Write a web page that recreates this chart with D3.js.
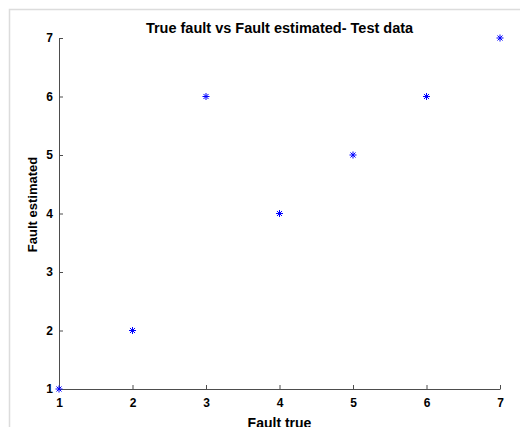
<!DOCTYPE html>
<html>
<head>
<meta charset="utf-8">
<script src="https://cdn.jsdelivr.net/npm/d3@7"></script>
<style>
  body { margin: 0; background: #fff; }
  svg { display: block; font-family: "Liberation Sans", Arial, sans-serif; }
  .axis path, .axis line { stroke: #4d4d4d; }
  .axis text { fill: #000; font-weight: bold; font-size: 12px; }
</style>
</head>
<body>
<svg id="chart" width="520" height="427"></svg>
<script>
// data
const faultTrue = [1, 2, 3, 4, 5, 6, 7];
const faultEstimated = [1, 2, 6, 4, 5, 6, 7];
const xTicks = [1, 2, 3, 4, 5, 6, 7];
const yTicks = [1, 2, 3, 4, 5, 6, 7];

const width = 520, height = 427;
const margin = { top: 38, right: 20, bottom: 38, left: 59 };

const svg = d3.select('#chart');

// light figure frame, clipped by the window on the right and bottom
svg.append('rect')
    .attr('x', 9.5).attr('y', 9.5)
    .attr('width', width).attr('height', height)
    .attr('fill', 'none')
    .attr('stroke', '#dcdcdc')
    .attr('stroke-width', 1.5);

const x = d3.scaleLinear().domain([1, 7]).range([margin.left, width - margin.right]);
const y = d3.scaleLinear().domain([1, 7]).range([height - margin.bottom, margin.top]);

svg.append('g')
    .attr('class', 'axis')
    .attr('transform', `translate(0,${y(1)})`)
    .call(d3.axisBottom(x).tickValues(xTicks).tickFormat(d3.format('d')).tickSizeInner(-4).tickSizeOuter(0).tickPadding(9));

svg.append('g')
    .attr('class', 'axis')
    .attr('transform', `translate(${x(1)},0)`)
    .call(d3.axisLeft(y).tickValues(yTicks).tickFormat(d3.format('d')).tickSizeInner(-4).tickSizeOuter(0).tickPadding(6));

// MATLAB style '*' marker: plus and cross together
const asterisk = {
    draw(ctx, size) {
        const r = Math.sqrt(size) / 2;
        const d = r * 0.72;
        ctx.moveTo(-r, 0); ctx.lineTo(r, 0);
        ctx.moveTo(0, -r); ctx.lineTo(0, r);
        ctx.moveTo(-d, -d); ctx.lineTo(d, d);
        ctx.moveTo(-d, d); ctx.lineTo(d, -d);
    }
};

svg.append('g').selectAll('path')
    .data(faultTrue.map((v, i) => [v, faultEstimated[i]]))
    .join('path')
    .attr('transform', d => `translate(${x(d[0])},${y(d[1])})`)
    .attr('d', d3.symbol().type(asterisk).size(49))
    .attr('fill', 'none')
    .attr('stroke', '#0000ff')
    .attr('stroke-width', 1);

svg.append('text')
    .attr('x', (x(1) + x(7)) / 2)
    .attr('y', 33)
    .attr('text-anchor', 'middle')
    .attr('font-size', 14.5)
    .attr('font-weight', 'bold')
    .text('True fault vs Fault estimated- Test data');

svg.append('text')
    .attr('x', (x(1) + x(7)) / 2)
    .attr('y', 428)
    .attr('text-anchor', 'middle')
    .attr('font-size', 14)
    .attr('font-weight', 'bold')
    .text('Fault true');

svg.append('text')
    .attr('transform', `translate(37,${(y(1) + y(7)) / 2 - 9}) rotate(-90)`)
    .attr('text-anchor', 'middle')
    .attr('font-size', 13)
    .attr('font-weight', 'bold')
    .text('Fault estimated');
</script>
</body>
</html>
